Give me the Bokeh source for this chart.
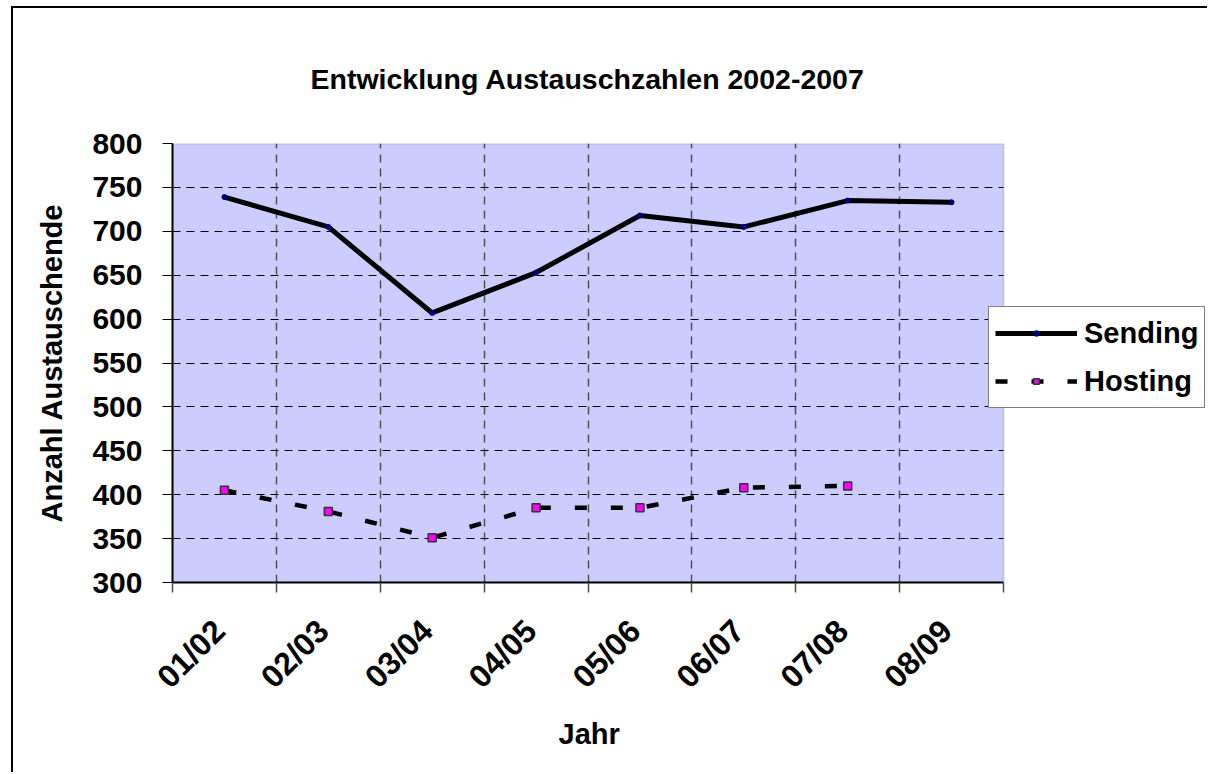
import math
import numpy as np
from bokeh.plotting import figure
from bokeh.models import Range1d, FixedTicker, Legend, LegendItem, BoxAnnotation, Title
from bokeh.embed import file_html
from bokeh.resources import INLINE

# ---- data ----
years = ["01/02", "02/03", "03/04", "04/05", "05/06", "06/07", "07/08", "08/09"]
sending = [739, 705, 607, 653, 718, 705, 735, 733]
hosting = [405, 381, 351, 385, 385, 408, 410]
y_ticks = [300, 350, 400, 450, 500, 550, 600, 650, 700, 750, 800]
title_text = "Entwicklung Austauschzahlen 2002-2007"
y_title = "Anzahl Austauschende"
x_title = "Jahr"

FONT = "Liberation Sans"
N = len(years)

x_send = np.arange(len(sending)) + 0.5
x_host = np.arange(len(hosting)) + 0.5
bounds = list(range(N + 1))
label_pos = [float(i + 0.5 - 0.05) for i in range(N)]

# frame spans the plot area plus the legend zone on the right (Excel layout)
PX_PER_CAT = 831 / N
x_end = N + 206 / PX_PER_CAT

p = figure(width=1196, height=766, output_backend="svg", toolbar_location=None,
           x_range=Range1d(0, x_end), y_range=Range1d(y_ticks[0], y_ticks[-1]),
           min_border_left=159, min_border_right=0, min_border_top=135,
           min_border_bottom=192)
p.styles = {"margin-left": "11px", "margin-top": "6px",
            "border-left": "2px solid black", "border-top": "2px solid black"}
p.background_fill_color = "white"
p.border_fill_color = "white"
p.outline_line_color = None

# plot area
p.add_layout(BoxAnnotation(left=0, right=N, bottom=y_ticks[0], top=y_ticks[-1],
                           fill_color="#CCCCFF", fill_alpha=1,
                           line_color="#808080", line_width=2, level="image"))

# chart title
p.title.text = title_text
p.title.align = "left"
p.title.offset = 138
p.title.standoff = 98
p.title.text_font = FONT
p.title.text_font_style = "bold"
p.title.text_font_size = "28.5px"
p.title.text_color = "black"

# grids
yg = p.ygrid[0]
yg.ticker = FixedTicker(ticks=y_ticks[1:-1])
yg.grid_line_color = "black"
yg.grid_line_dash = "8 6"
yg.grid_line_width = 1
if "cross_bounds" in yg.properties():
    yg.cross_bounds = (0, N)
else:
    p.add_layout(BoxAnnotation(left=N, right=x_end, bottom=y_ticks[0], top=y_ticks[-1],
                               fill_color="white", fill_alpha=1, line_color=None,
                               level="underlay"))
xg = p.xgrid[0]
xg.ticker = FixedTicker(ticks=bounds[1:-1])
xg.grid_line_color = "#505050"
xg.grid_line_dash = "8 6"
xg.grid_line_width = 1.5

# y axis
ya = p.yaxis[0]
ya.ticker = FixedTicker(ticks=y_ticks)
ya.axis_line_color = "black"
ya.axis_line_width = 2
ya.major_tick_out = 10
ya.major_tick_in = 0
ya.major_tick_line_color = "black"
ya.minor_tick_out = 0
ya.minor_tick_in = 0
ya.major_label_text_font = FONT
ya.major_label_text_font_style = "bold"
ya.major_label_text_font_size = "30px"
ya.major_label_text_color = "black"
ya.major_label_standoff = 20
ya.axis_label = y_title
ya.axis_label_text_font = FONT
ya.axis_label_text_font_style = "bold"
ya.axis_label_text_font_size = "29px"
ya.axis_label_text_color = "black"
ya.axis_label_standoff = 21

# x axis
xa = p.xaxis[0]
xa.bounds = (0, N)
xa.ticker = FixedTicker(ticks=label_pos, minor_ticks=bounds)
xa.major_label_overrides = {lp: lab for lp, lab in zip(label_pos, years)}
xa.axis_line_color = "black"
xa.axis_line_width = 2
xa.major_tick_out = 0
xa.major_tick_in = 0
xa.minor_tick_out = 10
xa.minor_tick_in = 0
xa.minor_tick_line_color = "#505050"
xa.minor_tick_line_width = 1.5
xa.major_label_orientation = math.pi / 4
xa.major_label_text_font = FONT
xa.major_label_text_font_style = "bold"
xa.major_label_text_font_size = "32px"
xa.major_label_text_color = "black"
xa.major_label_standoff = 33

# x axis title, centred under the plot area (frame is wider than the plot area)
p.add_layout(Title(text=x_title, align="left", offset=386, standoff=10,
                   text_font=FONT, text_font_style="bold", text_font_size="29px",
                   text_color="black"), "below")

# series
r_send_line = p.line(x_send, sending, line_color="black", line_width=5)
r_send_pts = p.scatter(x_send, sending, marker="circle", size=5,
                       fill_color="#000080", line_color="#000080")
r_host_line = p.line(x_host, hosting, line_color="black", line_width=4.5,
                     line_dash="12 24")
r_host_pts = p.scatter(x_host, hosting, marker="square", size=8,
                       fill_color="#FF00FF", line_color="#333333", line_width=1.5)

legend = Legend(items=[
    LegendItem(label="Sending", renderers=[r_send_line, r_send_pts]),
    LegendItem(label="Hosting", renderers=[r_host_line, r_host_pts]),
])
legend.location = (816, 174)
legend.border_line_color = "black"
legend.border_line_width = 1.5
legend.background_fill_color = "white"
legend.background_fill_alpha = 1
legend.label_text_font = FONT
legend.label_text_font_style = "bold"
legend.label_text_font_size = "29px"
legend.label_text_color = "black"
legend.glyph_width = 82
legend.glyph_height = 14
legend.label_height = 40
legend.label_standoff = 7
legend.spacing = 8
legend.padding = 6
legend.margin = 0
p.add_layout(legend, "center")

open("out.html", "w").write(file_html(p, INLINE))
